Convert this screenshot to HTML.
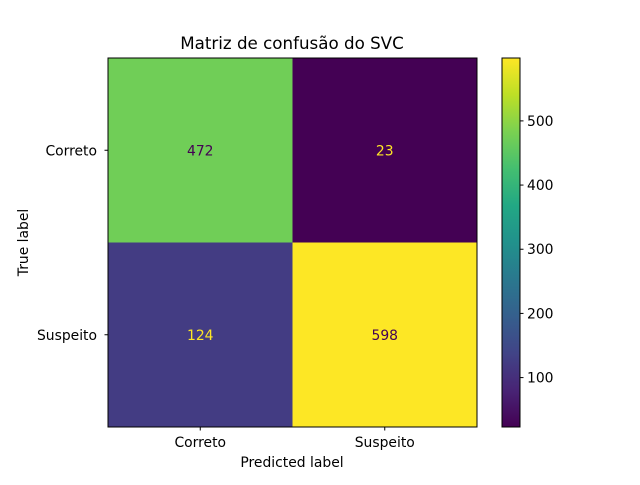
<!DOCTYPE html>
<html><head><meta charset="utf-8"><style>
body{margin:0;background:#fff;}
svg text{font-family:"DejaVu Sans","Liberation Sans",sans-serif;}
</style></head><body>
<svg width="640" height="480" viewBox="0 0 640 480">
<defs>
<linearGradient id="vir" x1="0" y1="1" x2="0" y2="0">
<stop offset="0" stop-color="#440154"/><stop offset="0.1" stop-color="#482475"/>
<stop offset="0.2" stop-color="#414487"/><stop offset="0.3" stop-color="#355f8d"/>
<stop offset="0.4" stop-color="#2a788e"/><stop offset="0.5" stop-color="#21918c"/>
<stop offset="0.6" stop-color="#22a884"/><stop offset="0.7" stop-color="#44bf70"/>
<stop offset="0.8" stop-color="#7ad151"/><stop offset="0.9" stop-color="#bddf26"/>
<stop offset="1" stop-color="#fde725"/>
</linearGradient>
</defs>
<text x="292" y="49" font-size="16.7" text-anchor="middle">Matriz de confusão do SVC</text>
<g id="cells"></g>
<rect x="108" y="58" width="369" height="369" fill="none" stroke="#000" stroke-width="1"/>
<g id="ticks" font-size="13.9"></g>
<text x="292" y="467" font-size="13.9" text-anchor="middle">Predicted label</text>
<text transform="translate(28,242.5) rotate(-90)" font-size="13.9" text-anchor="middle">True label</text>
<rect x="502" y="58" width="18" height="369" fill="url(#vir)" stroke="#000" stroke-width="1"/>
<g id="cbticks" font-size="13.9"></g>
</svg>
<script>
const categories=["Correto","Suspeito"];
const values=[[472,23],[124,598]];
const cbTicks=[100,200,300,400,500];
const vmin=23,vmax=598;
const ns="http://www.w3.org/2000/svg";
const X0=108,Y0=58,S=369,cell=S/2;
const stops=["#440154","#482475","#414487","#355f8d","#2a788e","#21918c","#22a884","#44bf70","#7ad151","#bddf26","#fde725"];
function hex(h){return [1,3,5].map(i=>parseInt(h.substr(i,2),16));}
function cmap(t){t=Math.max(0,Math.min(1,t))*10;const i=Math.min(9,Math.floor(t)),f=t-i;const a=hex(stops[i]),b=hex(stops[i+1]);return "rgb("+a.map((v,k)=>Math.round(v+(b[k]-v)*f)).join(",")+")";}
function mk(tag,at,p){const e=document.createElementNS(ns,tag);for(const k in at)e.setAttribute(k,at[k]);p.appendChild(e);return e;}
const cg=document.getElementById("cells");
values.forEach((row,r)=>row.forEach((v,c)=>{
 const t=(v-vmin)/(vmax-vmin);
 const re=mk("rect",{x:X0+c*cell,y:Y0+r*cell,width:cell,height:cell,fill:cmap(t)},cg);
 
 
 const tx=mk("text",{x:X0+(c+0.5)*cell,y:Y0+(r+0.5)*cell+5,"font-size":13.9,"text-anchor":"middle",fill:t<0.5?"#fde725":"#440154"},cg);
 tx.textContent=v;
 
 
}));
const tg=document.getElementById("ticks");
categories.forEach((c,i)=>{
 const x=X0+(i+0.5)*cell,y=Y0+(i+0.5)*cell;
 mk("line",{x1:x,y1:427,x2:x,y2:430.5,stroke:"#000"},tg);
 const t1=mk("text",{x:x,y:447,"text-anchor":"middle"},tg);t1.textContent=c;
 
 
 mk("line",{x1:104.5,y1:y,x2:108,y2:y,stroke:"#000"},tg);
 const t2=mk("text",{x:97,y:y+5,"text-anchor":"end"},tg);t2.textContent=c;
 
 
});
const cb=document.getElementById("cbticks");
cbTicks.forEach(v=>{
 const y=427-(v-vmin)/(vmax-vmin)*369;
 mk("line",{x1:520,y1:y,x2:523.5,y2:y,stroke:"#000"},cb);
 const t=mk("text",{x:527,y:y+5},cb);t.textContent=v;
 
 
});
</script>
</body></html>
